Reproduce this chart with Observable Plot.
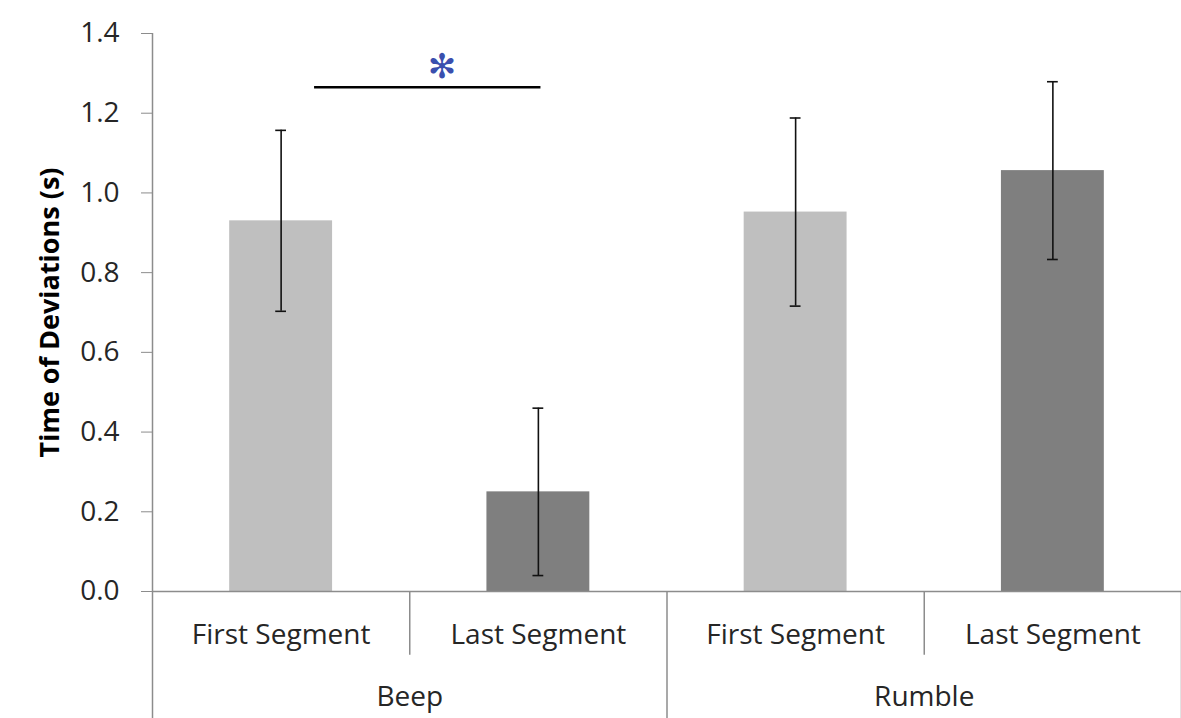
<!DOCTYPE html>
<html>
<head>
<meta charset="utf-8">
<script src="https://cdn.jsdelivr.net/npm/d3@7"></script>
<script src="https://cdn.jsdelivr.net/npm/@observablehq/plot@0.6"></script>
<style>
  html, body { margin: 0; padding: 0; background: #fff; }
  #chart svg { display: block; }
</style>
</head>
<body>
<div id="chart"></div>
<script>
// ---- data ----
const groups = ["Beep", "Rumble"];
const segments = ["First Segment", "Last Segment"];
const means = [0.93, 0.25, 0.952, 1.056];
const errors = [0.227, 0.21, 0.236, 0.223];
const barColors = ["#bfbfbf", "#7f7f7f", "#bfbfbf", "#7f7f7f"];
const yTicks = [0, 0.2, 0.4, 0.6, 0.8, 1.0, 1.2, 1.4];
const sigBracket = {from: 0.63, to: 1.51, y: 1.265, labelX: 1.125, label: "✻"};

const bars = means.map((m, i) => ({
  i, group: groups[Math.floor(i / 2)], segment: segments[i % 2],
  mean: m, lo: m - errors[i], hi: m + errors[i], color: barColors[i]
}));

const font = "'Open Sans', 'DejaVu Sans', sans-serif";
const textColor = "#262626";
const axisColor = "#8c8c8c";

const plot = Plot.plot({
  width: 1181,
  height: 718,
  marginLeft: 152,
  marginRight: 0,
  marginTop: 33,
  marginBottom: 127,
  style: {fontFamily: font, background: "#fff", overflow: "visible"},
  x: {domain: [0, 4], axis: null},
  y: {domain: [0, 1.4], axis: null},
  marks: [
    Plot.rectY(bars, {x1: d => d.i + 0.3, x2: d => d.i + 0.7, y1: 0, y2: "mean", fill: "color"}),
    // error bars
    Plot.ruleX(bars, {x: d => d.i + 0.5, y1: "lo", y2: "hi", stroke: "#111", strokeWidth: 1.6}),
    Plot.ruleY(bars, {x1: d => d.i + 0.479, x2: d => d.i + 0.521, y: "hi", stroke: "#111", strokeWidth: 1.6}),
    Plot.ruleY(bars, {x1: d => d.i + 0.479, x2: d => d.i + 0.521, y: "lo", stroke: "#111", strokeWidth: 1.6}),
    // y axis
    Plot.ruleX([0], {y1: 0, y2: 1.4, stroke: axisColor, strokeWidth: 1.5}),
    Plot.axisY({ticks: yTicks, tickFormat: () => "", tickSize: 11, stroke: axisColor, label: null}),
    Plot.text(yTicks, {x: 0, y: d => d, dx: -33, textAnchor: "end", text: d => d3.format(".1f")(d),
      fontSize: 28, fill: textColor}),
    Plot.text(["Time of Deviations (s)"], {frameAnchor: "left", textAnchor: "middle", dx: -102, rotate: -90,
      fontSize: 27, fontWeight: "bold", fill: "#000"}),
    // x axis baseline and dividers
    Plot.ruleY([0], {x1: 0, x2: 4, stroke: axisColor, strokeWidth: 1.5}),
    Plot.ruleX([0, 2, 4], {y1: 0, y2: -0.32, stroke: axisColor, strokeWidth: 1.5}),
    Plot.ruleX([1, 3], {y1: 0, y2: -0.16, stroke: axisColor, strokeWidth: 1.5}),
    Plot.text(bars, {x: d => d.i + 0.5, y: 0, dy: 44, text: "segment", fontSize: 28, fill: textColor}),
    Plot.text(groups, {x: (d, i) => i * 2 + 1, y: 0, dy: 106, text: d => d, fontSize: 28, fill: textColor}),
    // significance bracket
    Plot.ruleY([sigBracket], {x1: "from", x2: "to", y: "y", stroke: "#000", strokeWidth: 2.5}),
    Plot.text([sigBracket], {x: "labelX", y: "y", dy: -20, text: "label",
      fontSize: 34, fill: "#3a4fae", fontFamily: "'DejaVu Sans', sans-serif"})
  ]
});

document.getElementById("chart").appendChild(plot);
</script>
</body>
</html>
